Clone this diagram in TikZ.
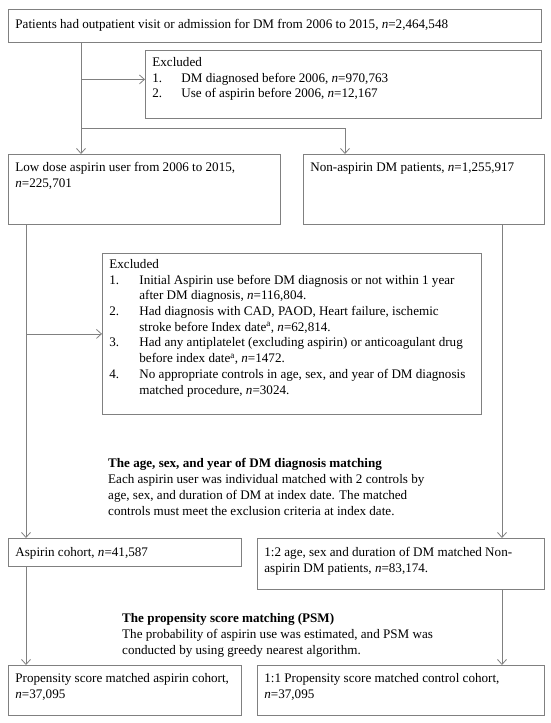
\documentclass[tikz,border=0pt]{standalone}
\usepackage{fontspec}
\setmainfont{Liberation Serif}
\usetikzlibrary{arrows.meta}
\definecolor{linegray}{RGB}{128,128,128}
\newcommand{\boxbody}[4][16]{\parbox[c][#3pt][t]{#2pt}{\raggedright\rule{0pt}{#1pt}#4}}
\newcommand{\exitem}[3][29]{\par\noindent\hangindent=#1pt\hangafter=1\makebox[#1pt][l]{#2}#3}

\begin{document}
\begin{tikzpicture}[x=1pt, y=-1pt,
		flowbox/.style={draw=linegray, line width=0.8pt, inner xsep=7pt, inner ysep=0pt, anchor=north west, font=\fontsize{13.1}{15.7}\selectfont},
		note/.style={inner sep=0pt, anchor=north west, font=\fontsize{13.1}{16}\selectfont},
		link/.style={draw=linegray, line width=0.8pt},
		arr/.style={link, -{Straight Barb[length=5pt,width=9pt]}}]
			%%%%% START %%%%%
			
			\useasboundingbox (0, 0) rectangle (550, 723);
			
			\node[flowbox] (pop) at (8, 9) {\boxbody[19]{519}{33}{Patients had outpatient visit or admission for DM from 2006 to 2015, \textit{n}=2,464,548}};
			\node[flowbox] (excl1) at (145, 50) {\boxbody{382}{68}{Excluded
					\exitem{1.}{DM diagnosed before 2006, \textit{n}=970,763}
					\exitem{2.}{Use of aspirin before 2006, \textit{n}=12,167}}};
			
			\node[flowbox] (lowdose) at (8, 154) {\boxbody[17]{258}{70}{Low dose aspirin user from 2006 to 2015,\newline \textit{n}=225,701}};
			\node[flowbox] (nonasp) at (303, 154) {\boxbody[17]{227}{70}{Non-aspirin DM patients, \textit{n}=1,255,917}};
			
			\node[flowbox] (excl2) at (102, 253) {\boxbody[15]{365}{161}{Excluded
					\exitem[30]{1.}{Initial Aspirin use before DM diagnosis or not within 1 year\newline after DM diagnosis, \textit{n}=116,804.}
					\exitem[30]{2.}{Had diagnosis with CAD, PAOD, Heart failure, ischemic\newline stroke before Index date\textsuperscript{a}, \textit{n}=62,814.}
					\exitem[30]{3.}{Had any antiplatelet (excluding aspirin) or anticoagulant drug\newline before index date\textsuperscript{a}, \textit{n}=1472.}
					\exitem[30]{4.}{No appropriate controls in age, sex, and year of DM diagnosis\newline matched procedure, \textit{n}=3024.}}};
			
			\node[note] (agematch) at (108, 451) {\parbox[t]{380pt}{\rule{0pt}{16pt}\textbf{The age, sex, and year of DM diagnosis matching}\\
					Each aspirin user was individual matched with 2 controls by\\
					age, sex, and duration of DM at index date. The matched\\
					controls must meet the exclusion criteria at index date.}};
			
			\node[flowbox] (aspco) at (8, 538) {\boxbody[18]{219}{28}{Aspirin cohort, \textit{n}=41,587}};
			\node[flowbox] (matched) at (257, 538) {\boxbody[18]{273}{51}{1:2 age, sex and duration of DM matched Non-\newline aspirin DM patients, \textit{n}=83,174.}};
			
			\node[note] (psmatch) at (122, 606) {\parbox[t]{380pt}{\rule{0pt}{16pt}\textbf{The propensity score matching (PSM)}\\
					The probability of aspirin use was estimated, and PSM was\\
					conducted by using greedy nearest algorithm.}};
			
			\node[flowbox] (psmasp) at (8, 665) {\boxbody[17]{219}{50}{Propensity score matched aspirin cohort,\newline \textit{n}=37,095}};
			\node[flowbox] (psmctl) at (257, 665) {\boxbody[17]{273}{50}{1:1 Propensity score matched control cohort,\newline \textit{n}=37,095}};
			
			% trunk and split
			\coordinate (splitL) at (81, 128);
			\coordinate (splitR) at (345, 128);
			\coordinate (colL) at (26, 0);
			\coordinate (colR) at (502, 0);
			
			\draw[arr] (pop.south -| splitL) -- (lowdose.north -| splitL);
			\draw[arr] ([yshift=5pt]excl1.west -| splitL) -- ([yshift=5pt]excl1.west);
			\draw[arr] (splitL) -- (splitR) -- (nonasp.north -| splitR);
			
			\draw[arr] (lowdose.south -| colL) -- (aspco.north -| colL);
			\draw[arr] (excl2.west -| colL) -- (excl2.west);
			\draw[arr] (nonasp.south -| colR) -- (matched.north -| colR);
			
			\draw[arr] (aspco.south -| colL) -- (psmasp.north -| colL);
			\draw[arr] (matched.south -| colR) -- (psmctl.north -| colR);
			
			%%%%% END %%%%%
		\end{tikzpicture}
\end{document}
